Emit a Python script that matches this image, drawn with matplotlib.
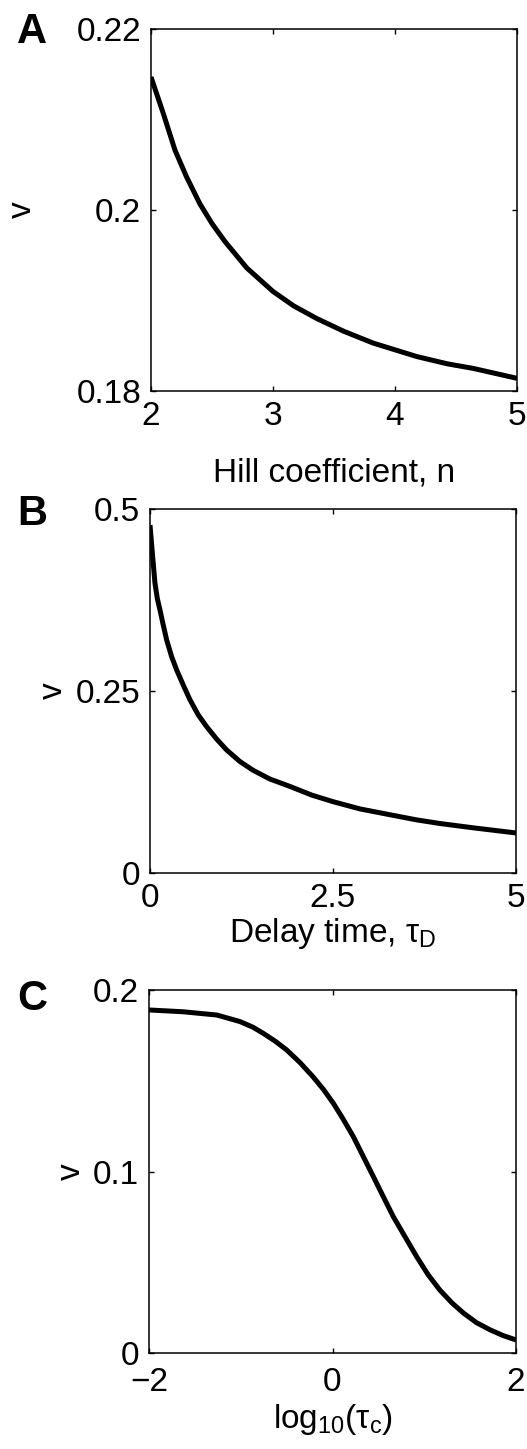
import matplotlib
matplotlib.use('Agg')
import matplotlib.pyplot as plt

plt.rcParams['font.family'] = ['Liberation Sans', 'DejaVu Sans']
plt.rcParams['mathtext.fontset'] = 'custom'
plt.rcParams['mathtext.rm'] = 'Liberation Sans'
plt.rcParams['mathtext.it'] = 'Liberation Sans'
plt.rcParams['mathtext.bf'] = 'Liberation Sans:bold'

# panel A: v vs Hill coefficient
hill_n = [2.0, 2.10, 2.197, 2.29, 2.40, 2.50, 2.607, 2.785, 3.0, 3.17, 3.36, 3.58,
          3.82, 4.18, 4.43, 4.64, 5.0]
hill_v = [0.2147, 0.2107, 0.2066, 0.2037, 0.2007, 0.1985, 0.1965, 0.1936, 0.1910,
          0.1894, 0.1880, 0.1866, 0.1853, 0.1838, 0.1830, 0.1825, 0.1814]

# panel B: v vs delay time
delay_t = [0.0, 0.036, 0.068, 0.10, 0.137, 0.18, 0.228, 0.296, 0.364, 0.455, 0.546,
           0.66, 0.774, 0.91, 1.047, 1.23, 1.41, 1.64, 1.91, 2.21, 2.5, 2.87, 3.28,
           3.64, 3.96, 4.42, 5.0]
delay_v = [0.478, 0.435, 0.398, 0.377, 0.361, 0.341, 0.320, 0.297, 0.279, 0.258, 0.238,
           0.217, 0.201, 0.184, 0.169, 0.153, 0.141, 0.129, 0.119, 0.107, 0.098, 0.088,
           0.080, 0.073, 0.068, 0.062, 0.055]

# panel C: v vs log10(tau_c)
logtau = [-2.0, -1.626, -1.26, -1.008, -0.863, -0.754, -0.627, -0.5, -0.354, -0.209,
          -0.10, 0.009, 0.118, 0.227, 0.336, 0.445, 0.554, 0.663, 0.79, 0.917, 1.044,
          1.17, 1.30, 1.43, 1.57, 1.72, 1.86, 2.0]
logtau_v = [0.189, 0.188, 0.1862, 0.1826, 0.1794, 0.1761, 0.1719, 0.167, 0.160, 0.152,
            0.1453, 0.1376, 0.1287, 0.1192, 0.1082, 0.0972, 0.0861, 0.0751, 0.0641,
            0.0531, 0.043, 0.0347, 0.0277, 0.0219, 0.0167, 0.0127, 0.0096, 0.0072]

fs = 24

fig = plt.figure(figsize=(5.27, 14.49), dpi=100)

panels = [
    dict(rect=[151/527, 1-391/1449, 366/527, 362/1449], x=hill_n, y=hill_v,
         xlim=(2, 5), ylim=(0.18, 0.22), xticks=[2, 3, 4, 5], xtl=['2', '3', '4', '5'],
         yticks=[0.18, 0.2, 0.22], ytl=['0.18', '0.2', '0.22'],
         xlabel='Hill coefficient, n', xl_y=-0.25, yl_x=-0.352, xpad=7,
         letter='A', let_y=1-43/1449),
    dict(rect=[150/527, 1-873/1449, 366/527, 364/1449], x=delay_t, y=delay_v,
         xlim=(0, 5), ylim=(0, 0.5), xticks=[0, 2.5, 5], xtl=['0', '2.5', '5'],
         yticks=[0, 0.25, 0.5], ytl=['0', '0.25', '0.5'],
         xlabel=r'Delay time, $\tau_D$', xl_y=-0.19, yl_x=-0.265, xpad=7,
         letter='B', let_y=1-525/1449),
    dict(rect=[149/527, 1-1353/1449, 367/527, 363/1449], x=logtau, y=logtau_v,
         xlim=(-2, 2), ylim=(0, 0.2), xticks=[-2, 0, 2], xtl=['\u22122', '0', '2'],
         yticks=[0, 0.1, 0.2], ytl=['0', '0.1', '0.2'],
         xlabel=r'log$_{10}$($\tau_c$)', xl_y=-0.207, yl_x=-0.2125, xpad=10,
         letter='C', let_y=1-1010/1449),
]

for p in panels:
    ax = fig.add_axes(p['rect'])
    ax.plot(p['x'], p['y'], color='black', lw=3.6, solid_capstyle='butt',
            solid_joinstyle='round')
    ax.set_xlim(*p['xlim'])
    ax.set_ylim(*p['ylim'])
    ax.set_xticks(p['xticks'])
    ax.set_xticklabels(p['xtl'])
    ax.set_yticks(p['yticks'])
    ax.set_yticklabels(p['ytl'])
    ax.tick_params(direction='in', top=True, right=True, length=3.5, width=1,
                   labelsize=fs, colors='black')
    ax.tick_params(axis='x', pad=p['xpad'])
    ax.tick_params(axis='y', pad=7)
    for s in ax.spines.values():
        s.set_linewidth(1.1)
    ax.set_xlabel(p['xlabel'], fontsize=fs, va='baseline')
    ax.xaxis.set_label_coords(0.5, p['xl_y'])
    ax.set_ylabel('v', fontsize=fs, rotation=90, ha='center', va='center')
    ax.yaxis.set_label_coords(p['yl_x'], 0.5)
    fig.text(17/527, p['let_y'], p['letter'], fontsize=30, fontweight='bold',
             ha='left', va='baseline')

fig.savefig('out.png', dpi=100)
